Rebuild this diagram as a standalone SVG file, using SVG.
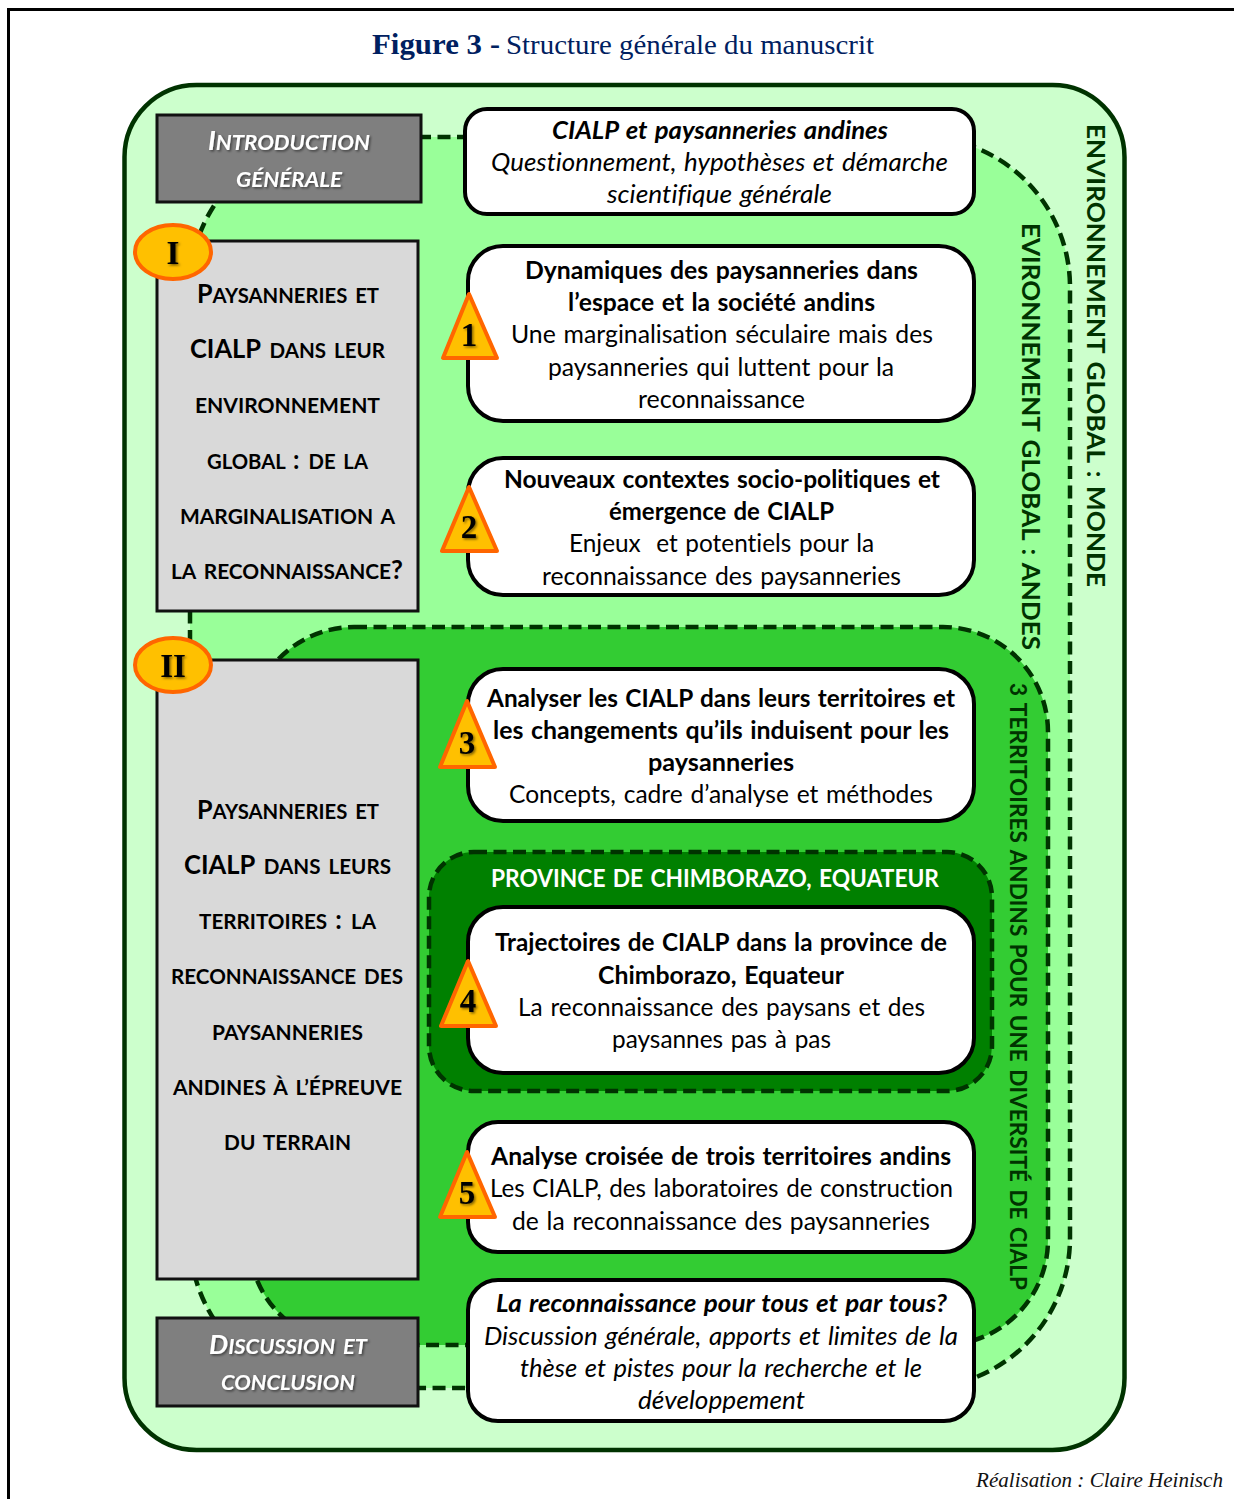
<svg xmlns="http://www.w3.org/2000/svg" width="1234" height="1499" viewBox="0 0 1234 1499">
<defs>
<style>
text{font-family:"Lato","Open Sans","Noto Sans",sans-serif;font-variant-ligatures:none}
.c{font-size:25px;fill:#000;word-spacing:1.500px}
.b{font-weight:700}
.i{font-style:italic}
.box{fill:#fff;stroke:#000;stroke-width:4}
.zone{stroke:#003300;stroke-width:4.500;stroke-dasharray:13 6.500}
.g1{fill:#7f7f7f;stroke:#111;stroke-width:3}
.g2{fill:#d9d9d9;stroke:#111;stroke-width:3}
.t{font-size:26px;font-weight:700;fill:#000;word-spacing:3px}
.s{font-size:21px}
.w{font-size:26px;font-weight:700;font-style:italic;fill:#fff;word-spacing:3px}
.v{font-size:25px;font-weight:700;fill:#003300;word-spacing:2px}
.badge{fill:#ffc000;stroke:#ff6600;stroke-width:4;stroke-linejoin:round}
.n{font-family:"Liberation Serif",serif;font-weight:700;font-size:33px;fill:#000;text-anchor:middle}
.ser{font-family:"Liberation Serif",serif;fill:#002060}
</style>
<filter id="sh" x="-30%" y="-30%" width="160%" height="160%"><feDropShadow dx="1.500" dy="1.500" stdDeviation="1.200" flood-color="#000" flood-opacity="0.5"/></filter>
</defs>
<rect width="1234" height="1499" fill="#fff"/>
<path d="M8.500 1499V9.500H1234" fill="none" stroke="#000" stroke-width="3"/>
<g id="title">
<text class="ser" x="372" y="54" font-size="30" font-weight="700" textLength="110" lengthAdjust="spacingAndGlyphs">Figure 3</text>
<text class="ser" x="490" y="54" font-size="30" font-weight="700">-</text>
<text class="ser" x="506" y="54" font-size="27" textLength="368" lengthAdjust="spacingAndGlyphs">Structure générale du manuscrit</text>
</g>
<g id="zones">
<rect id="zone-monde" x="124.500" y="85" width="1000" height="1365" rx="72" fill="#ccffcc" stroke="#003300" stroke-width="4.500"/>
<rect id="zone-andes" class="zone" x="190" y="137" width="880" height="1251" rx="150" fill="#99ff99"/>
<rect id="zone-territoires" class="zone" x="249" y="627" width="799" height="718" rx="105" fill="#33cc33"/>
<rect id="zone-province" class="zone" x="429" y="852" width="563" height="239" rx="45" fill="#008000"/>
</g>
<g id="env-labels">
<text class="v" transform="translate(1087 124) rotate(90)" textLength="463" lengthAdjust="spacingAndGlyphs">ENVIRONNEMENT GLOBAL : MONDE</text>
<text class="v" transform="translate(1022 223) rotate(90)" textLength="427" lengthAdjust="spacingAndGlyphs">EVIRONNEMENT GLOBAL : ANDES</text>
<text class="v" transform="translate(1010 683) rotate(90)" style="font-size:23px" textLength="607" lengthAdjust="spacingAndGlyphs">3 TERRITOIRES ANDINS POUR UNE DIVERSITÉ DE CIALP</text>
</g>
<text id="province-label" x="491" y="887" style="font-size:25px;font-weight:700;fill:#fff;word-spacing:2px" textLength="448" lengthAdjust="spacingAndGlyphs">PROVINCE DE CHIMBORAZO, EQUATEUR</text>
<g id="intro">
<rect class="g1" x="157" y="115" width="264" height="87"/>
<g filter="url(#sh)">
<text class="w" x="208" y="150" textLength="162" lengthAdjust="spacingAndGlyphs">I<tspan class="s">NTRODUCTION</tspan></text>
<text class="w" x="236" y="187" textLength="106" lengthAdjust="spacingAndGlyphs"><tspan class="s">GÉNÉRALE</tspan></text>
</g>
</g>
<g id="part-1">
<rect class="g2" x="157" y="241" width="261" height="370"/>
<text class="t" x="197" y="303" textLength="182" lengthAdjust="spacingAndGlyphs">P<tspan class="s">AYSANNERIES ET</tspan></text>
<text class="t" x="190" y="358" textLength="195" lengthAdjust="spacingAndGlyphs">CIALP <tspan class="s">DANS LEUR</tspan></text>
<text class="t s" x="195" y="413" textLength="185" lengthAdjust="spacingAndGlyphs">ENVIRONNEMENT</text>
<text class="t" x="207" y="469" textLength="161" lengthAdjust="spacingAndGlyphs"><tspan class="s">GLOBAL </tspan>: <tspan class="s">DE LA</tspan></text>
<text class="t s" x="180" y="524" textLength="215" lengthAdjust="spacingAndGlyphs">MARGINALISATION A</text>
<text class="t" x="171" y="579" textLength="232" lengthAdjust="spacingAndGlyphs"><tspan class="s">LA RECONNAISSANCE</tspan>?</text>
<ellipse class="badge" cx="173" cy="252" rx="38" ry="27"/>
<text class="n" x="173" y="264" filter="url(#sh)">I</text>
</g>
<g id="part-2">
<rect class="g2" x="157" y="660" width="261" height="619"/>
<text class="t" x="197" y="819" textLength="182" lengthAdjust="spacingAndGlyphs">P<tspan class="s">AYSANNERIES ET</tspan></text>
<text class="t" x="184" y="874" textLength="207" lengthAdjust="spacingAndGlyphs">CIALP <tspan class="s">DANS LEURS</tspan></text>
<text class="t" x="199" y="929" textLength="177" lengthAdjust="spacingAndGlyphs"><tspan class="s">TERRITOIRES </tspan>: <tspan class="s">LA</tspan></text>
<text class="t s" x="171" y="984" textLength="232" lengthAdjust="spacingAndGlyphs">RECONNAISSANCE DES</text>
<text class="t s" x="212" y="1040" textLength="151" lengthAdjust="spacingAndGlyphs">PAYSANNERIES</text>
<text class="t s" x="173" y="1095" textLength="229" lengthAdjust="spacingAndGlyphs">ANDINES À L’ÉPREUVE</text>
<text class="t s" x="224" y="1150" textLength="127" lengthAdjust="spacingAndGlyphs">DU TERRAIN</text>
<ellipse class="badge" cx="173" cy="665" rx="38" ry="27"/>
<text class="n" x="173" y="677" filter="url(#sh)">II</text>
</g>
<g id="discussion">
<rect class="g1" x="157" y="1318" width="261" height="88"/>
<g filter="url(#sh)">
<text class="w" x="209" y="1354" textLength="158" lengthAdjust="spacingAndGlyphs">D<tspan class="s">ISCUSSION ET</tspan></text>
<text class="w" x="221" y="1390" textLength="134" lengthAdjust="spacingAndGlyphs"><tspan class="s">CONCLUSION</tspan></text>
</g>
</g>
<g id="box-intro">
<rect class="box" x="465" y="109" width="509" height="105" rx="22"/>
<text class="c b i" x="552" y="139" textLength="336" lengthAdjust="spacingAndGlyphs">CIALP et paysanneries andines</text>
<text class="c i" x="491" y="171" textLength="457" lengthAdjust="spacingAndGlyphs">Questionnement, hypothèses et démarche</text>
<text class="c i" x="607" y="203" textLength="225" lengthAdjust="spacingAndGlyphs">scientifique générale</text>
</g>
<g id="box-1">
<rect class="box" x="468" y="246" width="506" height="175" rx="35"/>
<text class="c b" x="525" y="279" textLength="393" lengthAdjust="spacingAndGlyphs">Dynamiques des paysanneries dans</text>
<text class="c b" x="568" y="311" textLength="307" lengthAdjust="spacingAndGlyphs">l’espace et la société andins</text>
<text class="c" x="511" y="343" textLength="422" lengthAdjust="spacingAndGlyphs">Une marginalisation séculaire mais des</text>
<text class="c" x="548" y="376" textLength="346" lengthAdjust="spacingAndGlyphs">paysanneries qui luttent pour la</text>
<text class="c" x="638" y="408" textLength="167" lengthAdjust="spacingAndGlyphs">reconnaissance</text>
<polygon class="badge" points="469,294 443,358 497,358"/>
<text class="n" x="469" y="346" filter="url(#sh)">1</text>
</g>
<g id="box-2">
<rect class="box" x="468" y="458" width="506" height="137" rx="35"/>
<text class="c b" x="504" y="488" textLength="436" lengthAdjust="spacingAndGlyphs">Nouveaux contextes socio-politiques et</text>
<text class="c b" x="609" y="520" textLength="225" lengthAdjust="spacingAndGlyphs">émergence de CIALP</text>
<text class="c" x="569" y="552" textLength="305" lengthAdjust="spacingAndGlyphs" xml:space="preserve">Enjeux  et potentiels pour la</text>
<text class="c" x="542" y="585" textLength="359" lengthAdjust="spacingAndGlyphs">reconnaissance des paysanneries</text>
<polygon class="badge" points="469,487 442,551 497,551"/>
<text class="n" x="469" y="538" filter="url(#sh)">2</text>
</g>
<g id="box-3">
<rect class="box" x="468" y="669" width="506" height="152" rx="35"/>
<text class="c b" x="487" y="707" textLength="468" lengthAdjust="spacingAndGlyphs">Analyser les CIALP dans leurs territoires et</text>
<text class="c b" x="493" y="739" textLength="456" lengthAdjust="spacingAndGlyphs">les changements qu’ils induisent pour les</text>
<text class="c b" x="648" y="771" textLength="146" lengthAdjust="spacingAndGlyphs">paysanneries</text>
<text class="c" x="509" y="803" textLength="424" lengthAdjust="spacingAndGlyphs">Concepts, cadre d’analyse et méthodes</text>
<polygon class="badge" points="467,701 440,767 495,767"/>
<text class="n" x="467" y="754" filter="url(#sh)">3</text>
</g>
<g id="box-4">
<rect class="box" x="468" y="907" width="506" height="166" rx="35"/>
<text class="c b" x="495" y="951" textLength="452" lengthAdjust="spacingAndGlyphs">Trajectoires de CIALP dans la province de</text>
<text class="c b" x="598" y="984" textLength="246" lengthAdjust="spacingAndGlyphs">Chimborazo, Equateur</text>
<text class="c" x="518" y="1016" textLength="407" lengthAdjust="spacingAndGlyphs">La reconnaissance des paysans et des</text>
<text class="c" x="612" y="1048" textLength="219" lengthAdjust="spacingAndGlyphs">paysannes pas à pas</text>
<polygon class="badge" points="468,961 441,1026 496,1026"/>
<text class="n" x="468" y="1012" filter="url(#sh)">4</text>
</g>
<g id="box-5">
<rect class="box" x="468" y="1122" width="506" height="130" rx="30"/>
<text class="c b" x="491" y="1165" textLength="460" lengthAdjust="spacingAndGlyphs">Analyse croisée de trois territoires andins</text>
<text class="c" x="490" y="1197" textLength="463" lengthAdjust="spacingAndGlyphs">Les CIALP, des laboratoires de construction</text>
<text class="c" x="512" y="1230" textLength="418" lengthAdjust="spacingAndGlyphs">de la reconnaissance des paysanneries</text>
<polygon class="badge" points="467,1152 440,1217 495,1217"/>
<text class="n" x="467" y="1204" filter="url(#sh)">5</text>
</g>
<g id="box-conclusion">
<rect class="box" x="468" y="1280" width="506" height="141" rx="30"/>
<text class="c b i" x="496" y="1312" textLength="451" lengthAdjust="spacingAndGlyphs">La reconnaissance pour tous et par tous?</text>
<text class="c i" x="484" y="1345" textLength="474" lengthAdjust="spacingAndGlyphs">Discussion générale, apports et limites de la</text>
<text class="c i" x="520" y="1377" textLength="402" lengthAdjust="spacingAndGlyphs">thèse et pistes pour la recherche et le</text>
<text class="c i" x="638" y="1409" textLength="167" lengthAdjust="spacingAndGlyphs">développement</text>
</g>
<text id="credit" x="976" y="1487" style="font-family:'Liberation Serif',serif;font-size:21px;font-style:italic;fill:#111" textLength="247" lengthAdjust="spacingAndGlyphs">Réalisation : Claire Heinisch</text>
</svg>
